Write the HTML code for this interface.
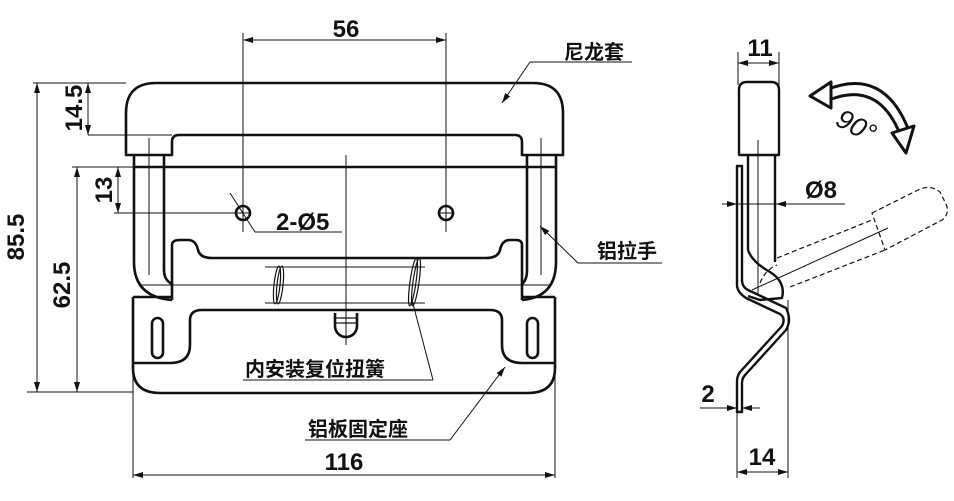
<!DOCTYPE html>
<html><head><meta charset="utf-8"><style>
html,body{margin:0;padding:0;background:#fff;}
svg{display:block;}
text{font-family:"Liberation Sans","Noto Sans CJK SC",sans-serif;fill:#111;}
.d{font-size:24px;font-weight:bold;}
.c{font-size:20px;font-weight:bold;}
</style></head><body>
<svg width="954" height="501" viewBox="0 0 954 501" xmlns="http://www.w3.org/2000/svg">
<defs>
<marker id="a" viewBox="0 0 10 6" refX="10" refY="3" markerWidth="10" markerHeight="6" orient="auto-start-reverse" markerUnits="userSpaceOnUse"><path d="M0,0 L10,3 L0,6 Z" fill="#111"/></marker>
</defs>
<g fill="none" stroke="#111" stroke-width="1">
<line x1="243" y1="33" x2="243" y2="232"/>
<line x1="446" y1="33" x2="446" y2="232"/>
<line x1="243" y1="40" x2="446" y2="40" marker-start="url(#a)" marker-end="url(#a)"/>
<line x1="33" y1="83" x2="126" y2="83"/>
<line x1="27" y1="392" x2="133" y2="392"/>
<line x1="37" y1="83" x2="37" y2="392" marker-start="url(#a)" marker-end="url(#a)"/>
<line x1="88" y1="135" x2="172" y2="135"/>
<line x1="88" y1="83" x2="88" y2="135" marker-start="url(#a)" marker-end="url(#a)"/>
<line x1="72" y1="167" x2="134" y2="167"/>
<line x1="114" y1="213" x2="236" y2="213"/>
<line x1="118" y1="167" x2="118" y2="213" marker-start="url(#a)" marker-end="url(#a)"/>
<line x1="77" y1="167" x2="77" y2="392" marker-start="url(#a)" marker-end="url(#a)"/>
<line x1="133" y1="300" x2="133" y2="478"/>
<line x1="555" y1="300" x2="555" y2="478"/>
<line x1="133" y1="475" x2="555" y2="475" marker-start="url(#a)" marker-end="url(#a)"/>
<line x1="346" y1="155" x2="346" y2="345"/>
<line x1="149" y1="138" x2="149" y2="275"/>
<line x1="541" y1="138" x2="541" y2="275"/>
<line x1="235" y1="213" x2="251" y2="213"/><line x1="438" y1="213" x2="454" y2="213"/>
<line x1="446" y1="200" x2="446" y2="230"/>
<line x1="265" y1="267" x2="425" y2="267"/>
<line x1="265" y1="303" x2="425" y2="303"/>
<line x1="140" y1="285" x2="550" y2="285"/>
<line x1="230" y1="193" x2="255" y2="232"/>
<line x1="255" y1="232" x2="342" y2="232"/>
<line x1="530" y1="62" x2="632" y2="62"/><line x1="530" y1="62" x2="502" y2="103" marker-end="url(#a)"/>
<line x1="578" y1="263" x2="662" y2="263"/><line x1="578" y1="263" x2="540" y2="226" marker-end="url(#a)"/>
<line x1="243" y1="380" x2="433" y2="380"/><line x1="433" y1="380" x2="412" y2="300"/>
<line x1="305" y1="440" x2="450" y2="440"/><line x1="450" y1="440" x2="505" y2="367" marker-end="url(#a)"/>
</g>
<g fill="none" stroke="#111" stroke-width="2.6" stroke-linejoin="round">
<path d="M126,155 L126,113 Q126,83 156,83 L533,83 Q563,83 563,113 L563,155 L522,155 L522,142 Q522,135 515,135 L179,135 Q172,135 172,142 L172,155 Z"/>
<line x1="134" y1="167" x2="556" y2="167"/>
<path d="M134,155 L134,262 Q134,297 172,300"/>
<path d="M164,155 L164,270 Q164,280 172,284"/>
<path d="M556,155 L556,262 Q556,297 522,300"/>
<path d="M527,155 L527,270 Q527,280 522,284"/>
<path d="M133,297 L172,297 M522,297 L555,297"/>
<path d="M133,297 L133,368 Q133,393 160,393 L528,393 Q555,393 555,368 L555,297"/>
<path d="M172,300 L172,245 Q172,240 180,240 L188,240 Q196,240 198,250 Q200,258 212,258 L486,258 Q498,258 500,250 Q502,240 510,240 L516,240 Q522,240 522,245 L522,300"/>
<path d="M133,363 L170,363 Q190,363 190,345 L190,320 Q190,310 202,310 L490,310 Q502,310 502,320 L502,345 Q502,363 522,363 L555,363"/>
<rect x="152" y="318" width="11" height="40" rx="5.5"/>
<rect x="527" y="318" width="11" height="40" rx="5.5"/>
<path d="M335,313 L335,326 A11,11 0 0 0 357,326 L357,313"/>
<circle cx="243" cy="213" r="7"/>
<circle cx="446" cy="213" r="7"/>
</g>
<g fill="none" stroke="#111" stroke-width="1.2">
<line x1="335" y1="318" x2="357" y2="318"/><line x1="335" y1="323" x2="357" y2="323"/>
<ellipse cx="277" cy="285" rx="3" ry="19" transform="rotate(6 277 285)"/>
<ellipse cx="280" cy="285" rx="3" ry="19" transform="rotate(6 280 285)"/>
<ellipse cx="413" cy="282" rx="3" ry="24" transform="rotate(8 413 282)"/>
<ellipse cx="416" cy="282" rx="3" ry="24" transform="rotate(8 416 282)"/>
</g>
<g fill="none" stroke="#111" stroke-width="1">
<line x1="738" y1="52" x2="738" y2="85"/><line x1="779" y1="52" x2="779" y2="85"/>
<line x1="738" y1="63" x2="779" y2="63" marker-start="url(#a)" marker-end="url(#a)"/>
<line x1="758" y1="140" x2="758" y2="295"/>
<line x1="722" y1="204" x2="845" y2="204"/>
<line x1="725" y1="204" x2="737" y2="204" marker-end="url(#a)"/>
<line x1="787" y1="204" x2="776" y2="204" marker-end="url(#a)"/>
<line x1="737" y1="395" x2="737" y2="478"/><line x1="742" y1="395" x2="742" y2="412"/>
<line x1="788" y1="300" x2="788" y2="478"/>
<line x1="700" y1="408" x2="737" y2="408" marker-end="url(#a)"/>
<line x1="760" y1="408" x2="742" y2="408" marker-end="url(#a)"/>
<line x1="737" y1="472" x2="788" y2="472" marker-start="url(#a)" marker-end="url(#a)"/>
<line x1="752" y1="290" x2="888" y2="228"/>
</g>
<g fill="none" stroke="#111" stroke-width="1.2" stroke-dasharray="5,3">
<line x1="777" y1="258" x2="872" y2="220"/>
<line x1="790" y1="287" x2="885" y2="250"/>
<path d="M872,213 L918,190 Q930,184 940,192 L946,204 Q950,214 942,220 L885,250 Z"/>
<path d="M760,283 Q765,270 777,265"/>
</g>
<g fill="none" stroke="#111" stroke-width="2.4" stroke-linejoin="round">
<path d="M739,155 L739,90 Q739,82 747,82 L771,82 Q779,82 779,90 L779,155 Z"/>
<line x1="748" y1="155" x2="748" y2="250"/>
<line x1="775" y1="155" x2="775" y2="262"/>
<path d="M737,166 L737,285 Q737,292 746,298 L780,314 Q786,318 782,326 L740,372 Q737,376 737,382 L737,412 L742,412 L742,383 Q742,378 746,374 L786,330 Q792,320 786,308 L748,290 Q742,287 742,280 L742,166 Z"/>
<path d="M748,250 Q752,262 770,272 Q786,282 782,298 L760,300 L748,296"/>
</g>
<g fill="#fff" stroke="#111" stroke-width="3" stroke-linejoin="round">
<path d="M826,90 Q884,66 909,131 L900,134 Q878,80 829,100 Z"/>
<path d="M810,96 L831,82 L831,108 Z"/>
<path d="M892,133 L914,126 L906,153 Z"/>
</g>
<text class="d" x="346" y="37" text-anchor="middle">56</text>
<text class="d" transform="translate(24 237) rotate(-90)" text-anchor="middle">85.5</text>
<text class="d" transform="translate(82 108) rotate(-90)" text-anchor="middle">14.5</text>
<text class="d" transform="translate(112 190) rotate(-90)" text-anchor="middle">13</text>
<text class="d" transform="translate(70 285) rotate(-90)" text-anchor="middle">62.5</text>
<text class="d" x="276" y="230">2-Ø5</text>
<text class="d" x="344" y="470" text-anchor="middle">116</text>
<text class="d" x="760" y="56" text-anchor="middle">11</text>
<text class="d" x="805" y="198">Ø8</text>
<text class="d" x="708" y="402" text-anchor="middle">2</text>
<text class="d" x="762" y="465" text-anchor="middle">14</text>
<text class="d" transform="translate(852 134) rotate(28)" text-anchor="middle" style="font-style:italic;font-size:27px;font-weight:normal">90°</text>
<text class="c" x="564" y="59">尼龙套</text>
<text class="c" x="597" y="258">铝拉手</text>
<text class="c" x="245" y="376">内安装复位扭簧</text>
<text class="c" x="308" y="436">铝板固定座</text>
</svg>
</body></html>
